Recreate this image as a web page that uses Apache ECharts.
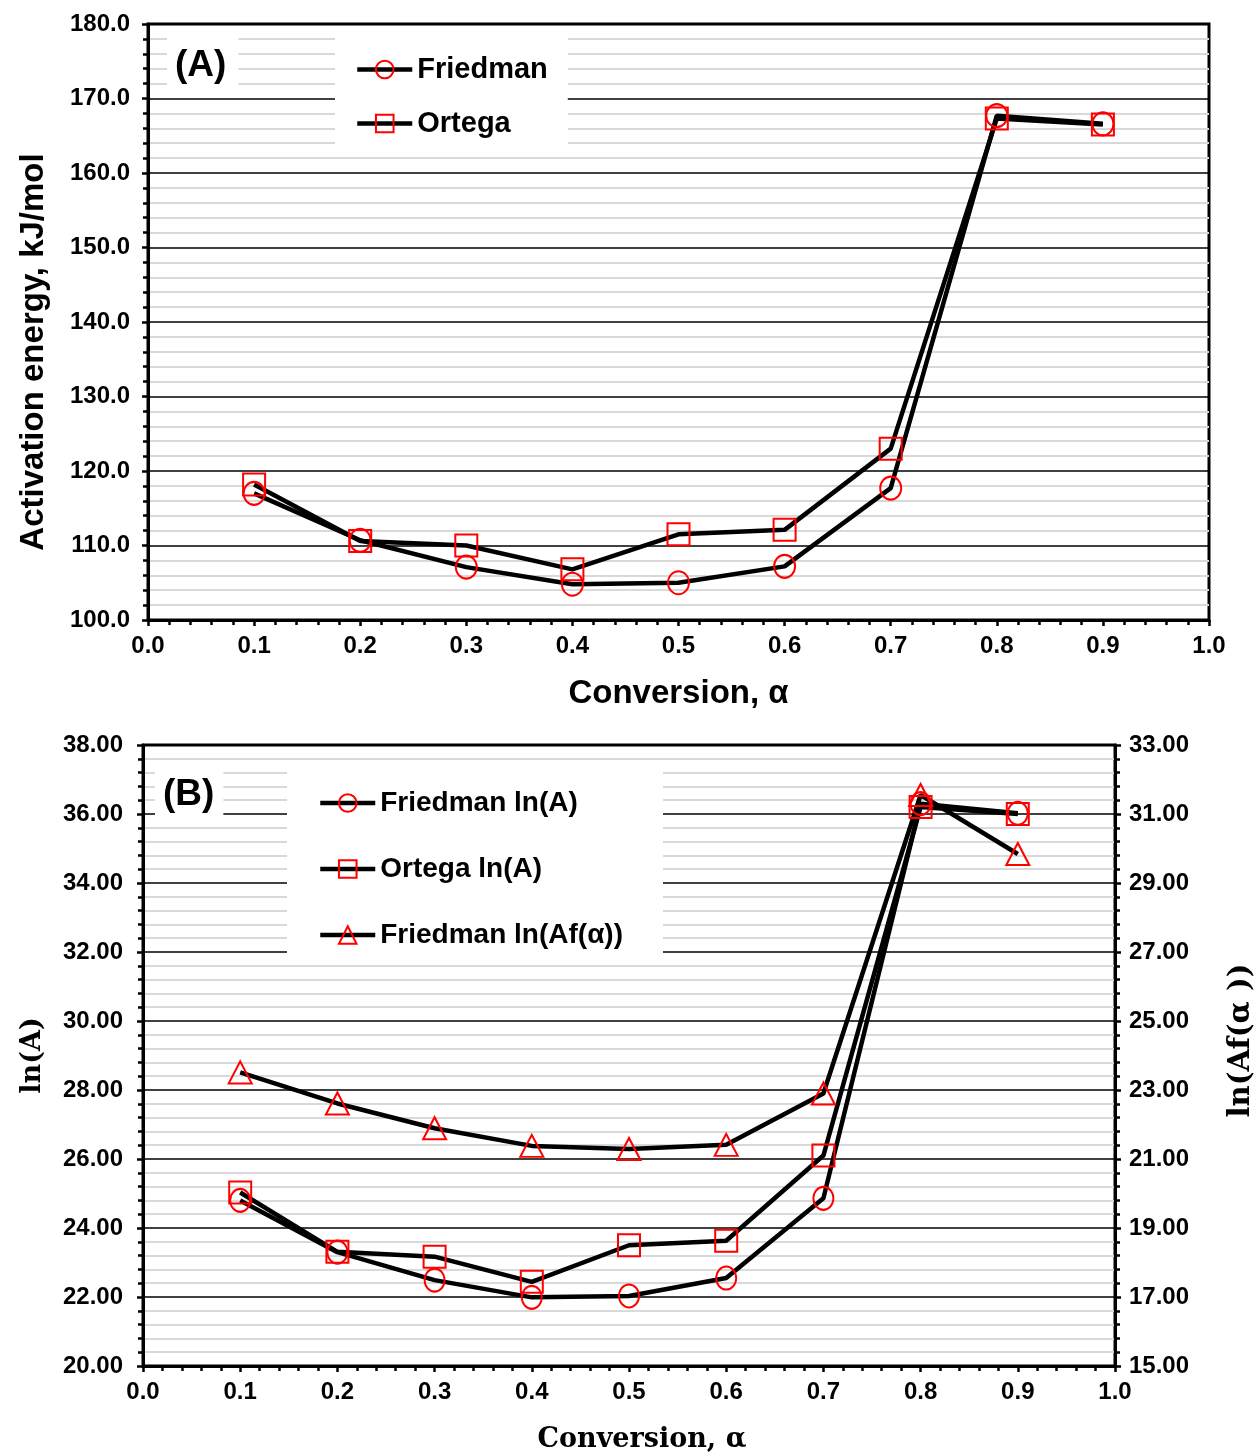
<!DOCTYPE html>
<html>
<head>
<meta charset="utf-8">
<script src="https://cdn.jsdelivr.net/npm/echarts@6/dist/echarts.min.js"></script>
<style>
html,body{margin:0;padding:0;background:#fff;}
#chart{width:1258px;height:1455px;}
</style>
</head>
<body>
<div id="chart"></div>
<script>
// ---- data ----
const alpha = [0.1, 0.2, 0.3, 0.4, 0.5, 0.6, 0.7, 0.8, 0.9];
const eFriedman = [117.0, 110.7, 107.1, 104.8, 105.0, 107.2, 117.7, 167.7, 166.6];
const eOrtega   = [118.2, 110.6, 110.0, 106.8, 111.5, 112.1, 123.0, 167.3, 166.5];
const lnAFriedman = [24.80, 23.30, 22.49, 21.99, 22.03, 22.55, 24.86, 36.30, 36.02];
const lnAOrtega   = [25.03, 23.31, 23.17, 22.44, 23.50, 23.63, 26.10, 36.20, 36.00];
const lnAfFriedman = [23.51, 22.61, 21.89, 21.38, 21.29, 21.41, 22.90, 31.55, 29.84];

const namesA = ['Friedman', 'Ortega'];
const namesB = ['Friedman ln(A)', 'Ortega ln(A)', 'Friedman ln(Af(α))'];
const panelLabels = ['(A)', '(B)'];

const pair = (ys) => alpha.map((x, i) => [x, ys[i]]);

const SANS = '"Liberation Sans", Arial, sans-serif';
const SERIF = '"DejaVu Serif", serif';
const ellipse = 'path://M0,-1C0.5523,-1 1,-0.5523 1,0C1,0.5523 0.5523,1 0,1C-0.5523,1 -1,0.5523 -1,0C-1,-0.5523 -0.5523,-1 0,-1Z';

const markerStyle = {color: 'rgba(0,0,0,0)', borderColor: '#ff0000', borderWidth: 2};
const lineStyle = {color: '#000', width: 4.5};

function xAxisCfg(gridIndex, nameFont) {
  return {
    type: 'value', gridIndex, min: 0, max: 1, interval: 0.1,
    name: 'Conversion, α', nameLocation: 'middle', nameGap: 50,
    nameTextStyle: {fontFamily: nameFont.family, fontWeight: 'bold', fontSize: nameFont.size, color: '#000', padding: nameFont.padding || 0},
    axisLine: {show: true, onZero: false, lineStyle: {color: '#000', width: 3}},
    axisTick: {show: true, length: 6, lineStyle: {color: '#000', width: 2.5}},
    minorTick: {show: true, splitNumber: 5, length: 5, lineStyle: {color: '#000', width: 2.5}},
    axisLabel: {margin: 14, fontFamily: SANS, fontWeight: 'bold', fontSize: 24, color: '#000',
      formatter: v => v.toFixed(1)},
    splitLine: {show: false}, minorSplitLine: {show: false}
  };
}

function yAxisCfg(gridIndex, min, max, interval, decimals, name, nameFont, nameGap, opts) {
  const o = {
    type: 'value', gridIndex, min, max, interval,
    name, nameLocation: 'middle', nameRotate: 90, nameGap,
    nameTextStyle: {fontFamily: nameFont.family, fontWeight: 'bold', fontSize: nameFont.size, color: '#000', padding: nameFont.padding || 0},
    axisLine: {show: true, onZero: false, lineStyle: {color: '#000', width: 3}},
    axisTick: {show: true, length: 6, lineStyle: {color: '#000', width: 2.5}},
    minorTick: {show: true, splitNumber: 5, length: 5, lineStyle: {color: '#000', width: 2.5}},
    axisLabel: {margin: 18, fontFamily: SANS, fontWeight: 'bold', fontSize: 24, color: '#000',
      formatter: v => v.toFixed(decimals)},
    splitLine: {show: true, lineStyle: {color: '#000', width: 1.5}},
    minorSplitLine: {show: true, lineStyle: {color: '#d9d9d9', width: 2}}
  };
  return Object.assign(o, opts || {});
}

function lineSeries(name, xi, yi, ys, symbol, size) {
  return {
    name, type: 'line', xAxisIndex: xi, yAxisIndex: yi, data: pair(ys),
    symbol, symbolSize: size, showSymbol: true,
    lineStyle, itemStyle: markerStyle, color: '#000',
    emphasis: {disabled: true}, animation: false, z: 3
  };
}

const legendText = (size) => ({fontFamily: SANS, fontWeight: 'bold', fontSize: size, color: '#000', lineHeight: size});

const option = {
  backgroundColor: '#fff',
  animation: false,
  title: [
    {text: panelLabels[0], left: 167, top: 33, padding: [15, 12, 8, 8], backgroundColor: '#fff',
     textStyle: {fontFamily: SANS, fontWeight: 'bold', fontSize: 37, lineHeight: 36, color: '#000'}},
    {text: panelLabels[1], left: 155, top: 770, padding: [7, 9, 4, 8], backgroundColor: '#fff',
     textStyle: {fontFamily: SANS, fontWeight: 'bold', fontSize: 37, lineHeight: 36, color: '#000'}}
  ],
  legend: [
    {data: namesA, orient: 'vertical', left: 335, top: 33, padding: [22, 20, 14, 20],
     backgroundColor: '#fff', itemWidth: 55, itemHeight: 22, itemGap: 25,
     lineStyle: {width: 4.5},
     textStyle: legendText(29), selectedMode: false},
    {data: namesB, orient: 'vertical', left: 287, top: 770, padding: [19, 40, 15, 31],
     backgroundColor: '#fff', itemWidth: 55, itemHeight: 22, itemGap: 38,
     lineStyle: {width: 4.5},
     textStyle: legendText(28), selectedMode: false}
  ],
  grid: [
    {left: 148, top: 24, width: 1061, height: 596, show: true, borderColor: '#000', borderWidth: 3,
     backgroundColor: 'transparent', containLabel: false, outerBoundsMode: 'none'},
    {left: 143, top: 745, width: 972, height: 621, show: true, borderColor: '#000', borderWidth: 3,
     backgroundColor: 'transparent', containLabel: false, outerBoundsMode: 'none'}
  ],
  xAxis: [
    Object.assign(xAxisCfg(0, {family: SANS, size: 33}), {nameGap: 57}),
    Object.assign(xAxisCfg(1, {family: SERIF, size: 27, padding: [0, 0, 0, 26]}), {nameGap: 60})
  ],
  yAxis: [
    yAxisCfg(0, 100, 180, 10, 1, 'Activation energy, kJ/mol', {family: SANS, size: 33, padding: [0, 60, 0, 0]}, 98),
    yAxisCfg(1, 20, 38, 2, 2, 'ln(A)', {family: SERIF, size: 27}, 97,
      {axisLabel: {margin: 20, fontFamily: SANS, fontWeight: 'bold', fontSize: 24, color: '#000', formatter: v => v.toFixed(2)}}),
    yAxisCfg(1, 15, 33, null, 2, 'ln(Af(α ))', {family: SERIF, size: 29, padding: [0, 0, 0, 30]}, 112,
      {position: 'right', alignTicks: true,
       splitLine: {show: false}, minorSplitLine: {show: false},
       axisLabel: {margin: 14, fontFamily: SANS, fontWeight: 'bold', fontSize: 24, color: '#000', formatter: v => v.toFixed(2)}})
  ],
  series: [
    lineSeries(namesA[0], 0, 0, eFriedman, ellipse, [21, 23]),
    lineSeries(namesA[1], 0, 0, eOrtega, 'rect', 22),
    lineSeries(namesB[0], 1, 1, lnAFriedman, ellipse, [20, 23]),
    lineSeries(namesB[1], 1, 1, lnAOrtega, 'rect', 22),
    lineSeries(namesB[2], 1, 2, lnAfFriedman, 'triangle', [23, 22])
  ]
};

const chart = echarts.init(document.getElementById('chart'), null, {renderer: 'canvas'});
chart.setOption(option);
</script>
</body>
</html>
